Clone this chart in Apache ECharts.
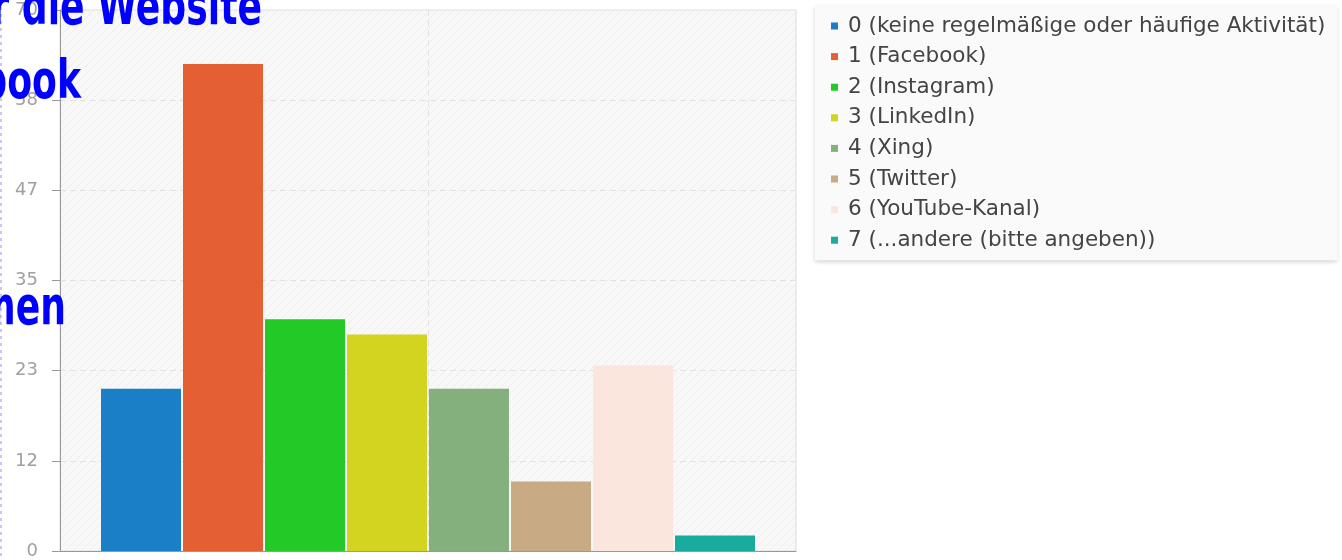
<!DOCTYPE html>
<html>
<head>
<meta charset="utf-8">
<script src="https://cdn.jsdelivr.net/npm/echarts@6/dist/echarts.min.js"></script>
<style>
html,body{margin:0;padding:0;background:#fff;}
#chart{width:1342px;height:560px;}
</style>
</head>
<body>
<div id="chart"></div>
<script>
const seriesNames = [
  '0 (keine regelmäßige oder häufige Aktivität)',
  '1 (Facebook)',
  '2 (Instagram)',
  '3 (LinkedIn)',
  '4 (Xing)',
  '5 (Twitter)',
  '6 (YouTube-Kanal)',
  '7 (...andere (bitte angeben))'
];
const seriesValues = [21, 63, 30, 28, 21, 9, 24, 2];
const seriesColors = ['#1a7fc6', '#e55f34', '#22c927', '#d3d41f', '#84b07e', '#c8aa84', '#fbe6de', '#1aab9f'];
const yTickLabels = ['0', '12', '23', '35', '47', '58', '70'];
const titleLines = ['für die Website', 'Facebook', 'Unternehmen'];

const pc = document.createElement('canvas');
pc.width = 8; pc.height = 8;
const g = pc.getContext('2d');
g.fillStyle = '#f8f8f8';
g.fillRect(0, 0, 8, 8);
g.strokeStyle = 'rgba(0,0,0,0.045)';
g.lineWidth = 1;
g.beginPath();
g.moveTo(-1, 9); g.lineTo(9, -1);
g.moveTo(-1, 1); g.lineTo(1, -1);
g.moveTo(7, 9); g.lineTo(9, 7);
g.stroke();

const chart = echarts.init(document.getElementById('chart'), null, {renderer: 'canvas'});

const series = seriesNames.map((n, i) => ({
  name: n,
  type: 'bar',
  xAxisIndex: 0,
  data: [seriesValues[i]],
  barWidth: 80,
  barGap: '2.5%',
  itemStyle: {color: seriesColors[i]},
  emphasis: {disabled: true}
}));

const titleStyle = {
  fill: '#0000ff',
  fontFamily: 'DejaVu Sans',
  fontWeight: 'bold',
  fontSize: 54,
  align: 'right',
  verticalAlign: 'middle'
};

chart.setOption({
  animation: false,
  grid: {
    left: 60, top: 10, width: 736, height: 541,
    show: true,
    backgroundColor: {image: pc, repeat: 'repeat'},
    borderColor: '#dddddd',
    borderWidth: 1
  },
  xAxis: [
    {
      type: 'category',
      data: [''],
      axisLine: {show: true, lineStyle: {color: '#999', width: 1}},
      axisTick: {show: false},
      axisLabel: {show: false},
      splitLine: {show: false}
    },
    {
      type: 'value',
      min: 0, max: 2, interval: 1,
      position: 'bottom',
      axisLine: {show: false},
      axisTick: {show: false},
      axisLabel: {show: false},
      splitLine: {show: true, showMinLine: false, showMaxLine: false, lineStyle: {color: '#e2e2e2', type: [6, 4], width: 1}}
    }
  ],
  yAxis: {
    type: 'value',
    min: 0,
    max: 70,
    interval: 70 / 6,
    axisLine: {show: true, lineStyle: {color: '#999', width: 1}},
    axisTick: {show: true, length: 8, lineStyle: {color: '#999'}},
    axisLabel: {
      margin: 22,
      color: '#a0a0a0',
      fontSize: 18,
      fontFamily: 'DejaVu Sans',
      formatter: (v, i) => yTickLabels[i]
    },
    splitLine: {show: true, showMaxLine: false, lineStyle: {color: '#e2e2e2', type: [6, 4], width: 1}}
  },
  legend: {
    data: seriesNames,
    orient: 'vertical',
    left: 815,
    top: 5,
    padding: [10, 12, 9, 16],
    itemWidth: 7,
    itemHeight: 7,
    itemGap: 8.6,
    icon: 'rect',
    backgroundColor: '#fafafa',
    shadowColor: 'rgba(0,0,0,0.18)',
    shadowBlur: 4,
    shadowOffsetY: 2,
    selectedMode: false,
    textStyle: {
      fontSize: 21.5,
      color: '#444',
      fontFamily: 'DejaVu Sans',
      padding: [0, 0, 0, 5]
    }
  },
  series: series,
  graphic: [
    {type: 'line', shape: {x1: 1, y1: 0, x2: 1, y2: 560}, style: {stroke: '#c8c8f2', lineWidth: 2, lineDash: [3, 4]}, z: 100},
    {type: 'text', x: 262, y: 10, scaleX: 0.67, z: 100, style: Object.assign({text: titleLines[0]}, titleStyle)},
    {type: 'text', x: 81, y: 84, scaleX: 0.67, z: 100, style: Object.assign({text: titleLines[1]}, titleStyle)},
    {type: 'text', x: 66, y: 310, scaleX: 0.67, z: 100, style: Object.assign({text: titleLines[2]}, titleStyle)}
  ]
});
</script>
</body>
</html>
